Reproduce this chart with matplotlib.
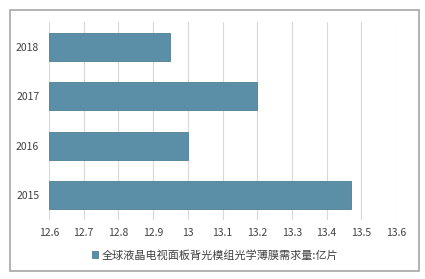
import matplotlib.pyplot as plt
from matplotlib.patches import Rectangle

plt.rcParams['font.family'] = ['Noto Sans CJK SC', 'DejaVu Sans']

years = ['2015', '2016', '2017', '2018']
demand = [13.47, 13.0, 13.2, 12.95]
xticks = [12.6, 12.7, 12.8, 12.9, 13, 13.1, 13.2, 13.3, 13.4, 13.5, 13.6]
xlabels = ['12.6', '12.7', '12.8', '12.9', '13', '13.1', '13.2', '13.3', '13.4', '13.5', '13.6']
label = '全球液晶电视面板背光模组光学薄膜需求量:亿片'

W, H = 425, 279
fig = plt.figure(figsize=(W / 100, H / 100), dpi=100)
fig.patches.append(Rectangle((10 / W, 1 - 271 / H), 409 / W, 261 / H,
                             transform=fig.transFigure, fill=False,
                             edgecolor='#a6a6a6', linewidth=1.2))

ax = fig.add_axes([49 / W, 1 - 220 / H, 347 / W, 198 / H])
ax.barh(years, [d - 12.6 for d in demand], left=12.6, height=0.56,
        color='#5b8fa7', edgecolor='#4f7f95', linewidth=0.6, label=label, zorder=2)
ax.set_xlim(12.6, 13.6)
ax.set_ylim(-0.5, 3.5)
ax.set_xticks(xticks)
ax.set_xticklabels(xlabels)
ax.grid(axis='x', color='#d9d9d9', linewidth=0.8, zorder=0)
for s in ax.spines.values():
    s.set_visible(False)
ax.tick_params(length=0, labelsize=7.5, colors='#404040')
ax.tick_params(axis='x', pad=6)
ax.tick_params(axis='y', pad=7)

fig.legend(loc='center', bbox_to_anchor=(215 / W, 1 - 255 / H), frameon=False,
           fontsize=8, handlelength=0.6, handleheight=0.6, handletextpad=0.3,
           labelcolor='#404040')

fig.savefig('out.png', dpi=100)
